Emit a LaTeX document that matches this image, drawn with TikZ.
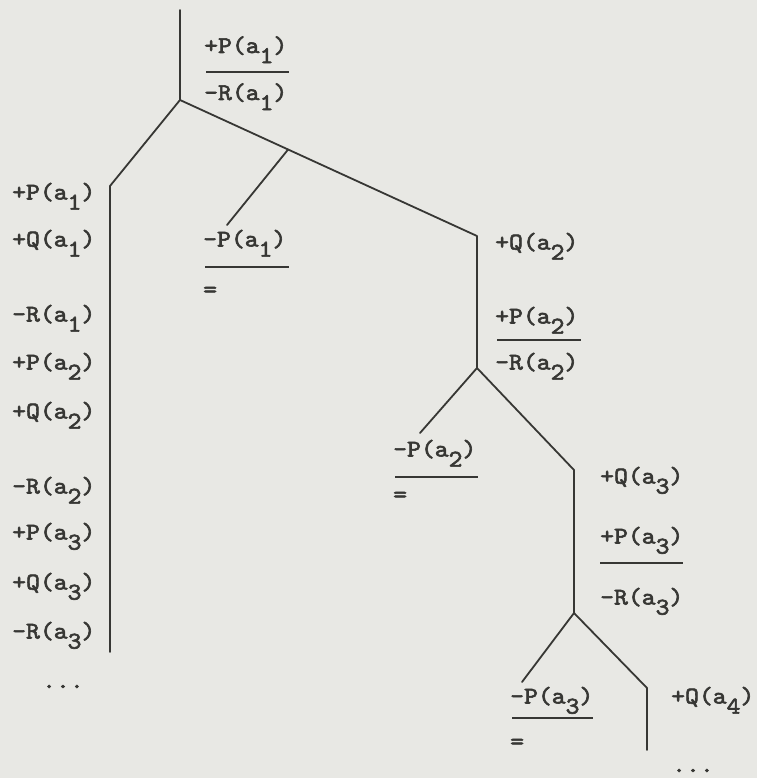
\documentclass[tikz,border=0pt]{standalone}
\usepackage{fontspec}
\newfontfamily\tw[FakeStretch=1.1,FakeBold=2.5]{lmmono10-regular.otf}
\usetikzlibrary{calc}
\definecolor{paper}{RGB}{232,232,228}
\definecolor{ink}{RGB}{55,55,52}
\newcommand{\sbs}[1]{\raisebox{-0.42em}{#1}}
\tikzset{
  lbl/.style={font=\tw\fontsize{24}{26}\selectfont, inner sep=0pt, anchor=base west, text=ink},
  edge/.style={draw=ink, line width=1.8pt, line cap=round, line join=round},
  fracrule/.style={draw=ink, line width=1.8pt}
}
\begin{document}
\begin{tikzpicture}[x=1pt,y=-1pt]
\useasboundingbox[fill=paper] (0,0) rectangle (757,778);
% tree points
\coordinate (top) at (180,10);
\coordinate (root) at (180,100);
\coordinate (L1) at (110,186);
\coordinate (L1e) at (110,652);
\coordinate (R1) at (477,236);
\coordinate (m1) at ($(root)!0.364!(R1)$);
\coordinate (c1) at (227,225);
\coordinate (B2) at (477,368);
\coordinate (c2) at (420,433);
\coordinate (R2) at (574,470);
\coordinate (B3) at (574,613);
\coordinate (c3) at (522,682);
\coordinate (R3) at (647,688);
\coordinate (R3e) at (647,750);
\draw[edge] (top) -- (root);
\draw[edge] (root) -- (L1) -- (L1e);
\draw[edge] (root) -- (R1) -- (B2);
\draw[edge] (m1) -- (c1);
\draw[edge] (B2) -- (c2);
\draw[edge] (B2) -- (R2) -- (B3);
\draw[edge] (B3) -- (c3);
\draw[edge] (B3) -- (R3) -- (R3e);
% top labels
\node[lbl] (t1) at (204,53) {+P(a\sbs{1})};
\draw[fracrule] (206,72) -- (289,72);
\node[lbl] (t2) at (204,100) {-R(a\sbs{1})};
% left column
\node[lbl] (l1) at (12,199.5) {+P(a\sbs{1})};
\node[lbl] (l2) at (12,246.5) {+Q(a\sbs{1})};
\node[lbl] (l3) at (12,321.5) {-R(a\sbs{1})};
\node[lbl] (l4) at (12,369.5) {+P(a\sbs{2})};
\node[lbl] (l5) at (12,418.5) {+Q(a\sbs{2})};
\node[lbl] (l6) at (12,493.5) {-R(a\sbs{2})};
\node[lbl] (l7) at (12,539.5) {+P(a\sbs{3})};
\node[lbl] (l8) at (12,589.5) {+Q(a\sbs{3})};
\node[lbl] (l9) at (12,638.5) {-R(a\sbs{3})};
\node[lbl] (ld) at (42,688) {...};
% closed branch 1
\node[lbl] (n1) at (203,246.5) {-P(a\sbs{1})};
\draw[fracrule] (205,267) -- (289,267);
\node[lbl] (e1) at (203,297) {=};
% branch 2
\node[lbl] (q2) at (495,249.5) {+Q(a\sbs{2})};
\node[lbl] (p2) at (495,323.5) {+P(a\sbs{2})};
\draw[fracrule] (497,340) -- (581,340);
\node[lbl] (r2) at (495,369.5) {-R(a\sbs{2})};
\node[lbl] (n2) at (393,456.5) {-P(a\sbs{2})};
\draw[fracrule] (395,477) -- (478,477);
\node[lbl] (e2) at (393,502) {=};
% branch 3
\node[lbl] (q3) at (600,483.5) {+Q(a\sbs{3})};
\node[lbl] (p3) at (600,543.5) {+P(a\sbs{3})};
\draw[fracrule] (600,563) -- (683,563);
\node[lbl] (r3) at (600,604.5) {-R(a\sbs{3})};
\node[lbl] (n3) at (510,703.5) {-P(a\sbs{3})};
\draw[fracrule] (512,718) -- (593,718);
\node[lbl] (e3) at (510,749) {=};
\node[lbl] (q4) at (671,703.5) {+Q(a\sbs{4})};
\node[lbl] (rd) at (672,772) {...};
\end{tikzpicture}
\end{document}
